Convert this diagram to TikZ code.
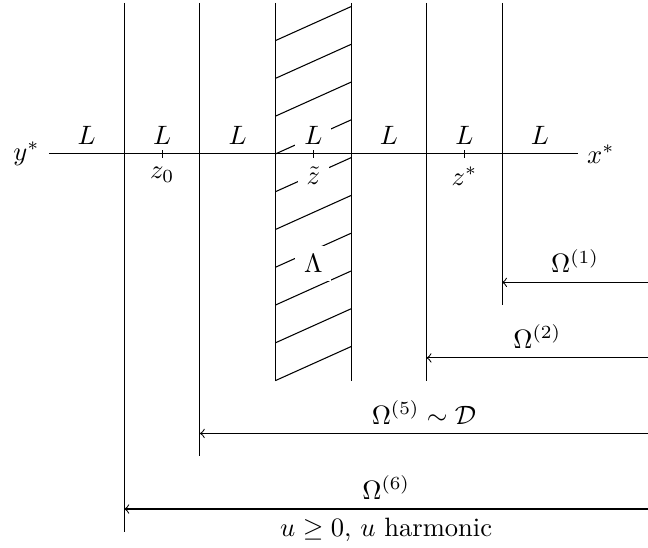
\documentclass[tikz,border=0pt]{standalone}
\usepackage{amsmath,amssymb}
\usepackage{tikz}

\begin{document}
\begin{tikzpicture}[
    wall/.style={thin},
    hatch/.style={thin},
    seglabel/.style={fill=white},
    region/.style={thin, ->}
]
\useasboundingbox (-1.6466,-5.21) rectangle (6.93,2.037);

% Walls
\draw[wall] (0,2) -- (0,-5);
\draw[wall] (1,2) -- (1,-4);
\draw[wall] (2,2) -- (2,-3);
\draw[wall] (3,2) -- (3,-3);
\draw[wall] (4,2) -- (4,-3);
\draw[wall] (5,2) -- (5,-2);

% Hatched strip
\draw[hatch] (2,1.5) -- (3,1.95);
\draw[hatch] (2,1) -- (3,1.45);
\draw[hatch] (2,0.5) -- (3,0.95);
\draw[hatch] (2,0) -- (3,0.45);
\draw[hatch] (2,-0.5) -- (3,-0.05);
\draw[hatch] (2,-1) -- (3,-0.55);
\draw[hatch] (2,-1.5) -- (3,-1.05);
\draw[hatch] (2,-2) -- (3,-1.55);
\draw[hatch] (2,-2.5) -- (3,-2.05);
\draw[hatch] (2,-3) -- (3,-2.55);

% Segment labels
\node[seglabel, above] (L1) at (-0.5,0) {$L$};
\node[seglabel, above] (L2) at (0.5,0) {$L$};
\node[seglabel, above] (L3) at (1.5,0) {$L$};
\node[seglabel, above] (L4) at (2.5,0) {$L$};
\node[seglabel, above] (L5) at (3.5,0) {$L$};
\node[seglabel, above] (L6) at (4.5,0) {$L$};
\node[seglabel, above] (L7) at (5.5,0) {$L$};

\node[seglabel, below] (z0) at (0.5,-0.05) {$z_0$};
\node[seglabel, below] (zt) at (2.5,-0.05) {$\tilde{z}$};
\node[seglabel, below] (zs) at (4.5,-0.05) {$z^*$};
\node[seglabel] (lam) at (2.5,-1.45) {$\Lambda$};

% Axis
\node[left] (ys) at (-1,0) {$y^*$};
\node[right] (xs) at (6,0) {$x^*$};
\draw (ys) -- (xs);
\draw (z0.north) ++(0,0.1) -- (z0.north);
\draw (zt.north) ++(0,0.1) -- (zt.north);
\draw (zs.north) ++(0,0.1) -- (zs.north);

% Regions
\coordinate (o1) at (6.93,-1.7);
\coordinate (o2) at (6.93,-2.7);
\coordinate (o5) at (6.93,-3.7);
\coordinate (o6) at (6.93,-4.7);
\coordinate (w1) at (5,-1.7);
\coordinate (w2) at (4,-2.7);
\coordinate (w5) at (1,-3.7);
\coordinate (w6) at (0,-4.7);

\draw[region] (o1) -- node[above] {$\Omega^{(1)}$} (w1);
\draw[region] (o2) -- node[above] {$\Omega^{(2)}$} (w2);
\draw[region] (o5) -- node[above] {$\Omega^{(5)}\sim\mathcal{D}$} (w5);
\draw[region] (o6) -- node[above] {$\Omega^{(6)}$} node[below] {$u\geq 0$, $u$ harmonic} (w6);

\end{tikzpicture}
\end{document}
